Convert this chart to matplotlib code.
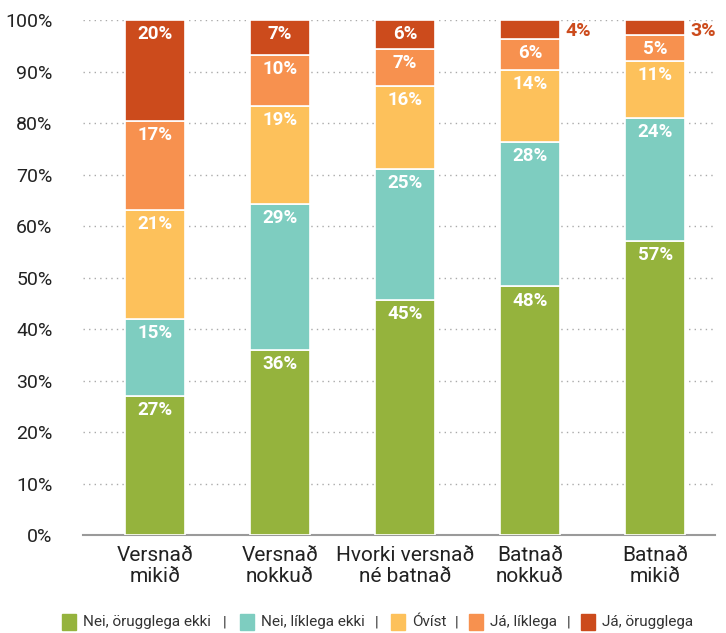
import matplotlib
matplotlib.use("Agg")
import matplotlib.pyplot as plt
from matplotlib.patches import Rectangle
import numpy as np

plt.rcParams['font.family'] = ['Roboto', 'DejaVu Sans']

categories = ["Versnað\nmikið", "Versnað\nnokkuð", "Hvorki versnað\nné batnað", "Batnað\nnokkuð", "Batnað\nmikið"]
series_names = ["Nei, örugglega ekki", "Nei, líklega ekki", "Óvíst", "Já, líklega", "Já, örugglega"]
nei_orugglega = [27.0, 35.9, 45.6, 48.3, 57.1]
nei_liklega = [14.9, 28.4, 25.5, 28.0, 23.9]
ovist = [21.2, 19.0, 16.1, 14.0, 11.1]
ja_liklega = [17.3, 9.9, 7.2, 6.0, 5.0]
ja_orugglega = [19.6, 6.8, 5.6, 3.7, 2.9]
labels = [
    ["27%", "36%", "45%", "48%", "57%"],
    ["15%", "29%", "25%", "28%", "24%"],
    ["21%", "19%", "16%", "14%", "11%"],
    ["17%", "10%", "7%", "6%", "5%"],
    ["20%", "7%", "6%", "4%", "3%"],
]
colors = ["#95b33d", "#7ecdc0", "#fdc15b", "#f7914f", "#cc4b1c"]

series = [nei_orugglega, nei_liklega, ovist, ja_liklega, ja_orugglega]

fig = plt.figure(figsize=(7.26, 6.33), dpi=100)
ax = fig.add_axes([0.1143, 0.1548, 0.985 - 0.1143, 0.968 - 0.1548])

x = np.arange(len(categories))
bottom = np.zeros(len(categories))
width = 0.48
for si, (vals, col) in enumerate(zip(series, colors)):
    vals = np.array(vals)
    ax.bar(x, vals, width, bottom=bottom, color=col, edgecolor="white", linewidth=1.2, zorder=3)
    for i in range(len(x)):
        top = bottom[i] + vals[i]
        if vals[i] >= 5:
            ax.text(x[i], top - 1.0, labels[si][i], ha="center", va="top", color="white",
                    fontsize=13.5, fontweight="bold", zorder=4)
        else:
            ax.text(x[i] + width / 2 + 0.04, top - 0.3, labels[si][i], ha="left", va="top",
                    color=col, fontsize=14, fontweight="bold", zorder=4)
    bottom = bottom + vals

ax.set_xlim(-0.576, 4.48)
ax.set_ylim(0, 100)
ax.set_yticks(np.arange(0, 101, 10))
ax.set_yticklabels([f"{v}%" for v in range(0, 101, 10)], fontsize=14, color="#222222")
ax.set_xticks(x)
ax.set_xticklabels(categories, fontsize=15, color="#222222", linespacing=1.1)
ax.tick_params(axis="both", length=0)
ax.tick_params(axis="y", pad=22)
ax.tick_params(axis="x", pad=8)
for s in ["top", "right", "left"]:
    ax.spines[s].set_visible(False)
ax.spines["bottom"].set_color("#9a9a9a")
ax.spines["bottom"].set_linewidth(1.5)
ax.yaxis.grid(True, linestyle=(0, (1, 3)), color="#aaaaaa", linewidth=1, zorder=0)
ax.set_axisbelow(True)

# legend (pixel layout)
W, H = fig.get_size_inches() * fig.dpi
sq_x = [62, 240, 391, 469, 581]
pipe_x = [225, 377, 457, 569]
sq_w, sq_h = 14, 16
cy = H - 622
for i, (name, col) in enumerate(zip(series_names, colors)):
    fig.patches.append(Rectangle((sq_x[i] / W, (cy - sq_h / 2) / H), sq_w / W, sq_h / H,
                                 transform=fig.transFigure, color=col, figure=fig))
    fig.text((sq_x[i] + sq_w + 7) / W, cy / H, name, fontsize=11, color="#333333",
             va="center", ha="left")
for px in pipe_x:
    fig.text(px / W, cy / H, "|", fontsize=11, color="#333333", va="center", ha="center")

fig.savefig("out.png", dpi=100)
